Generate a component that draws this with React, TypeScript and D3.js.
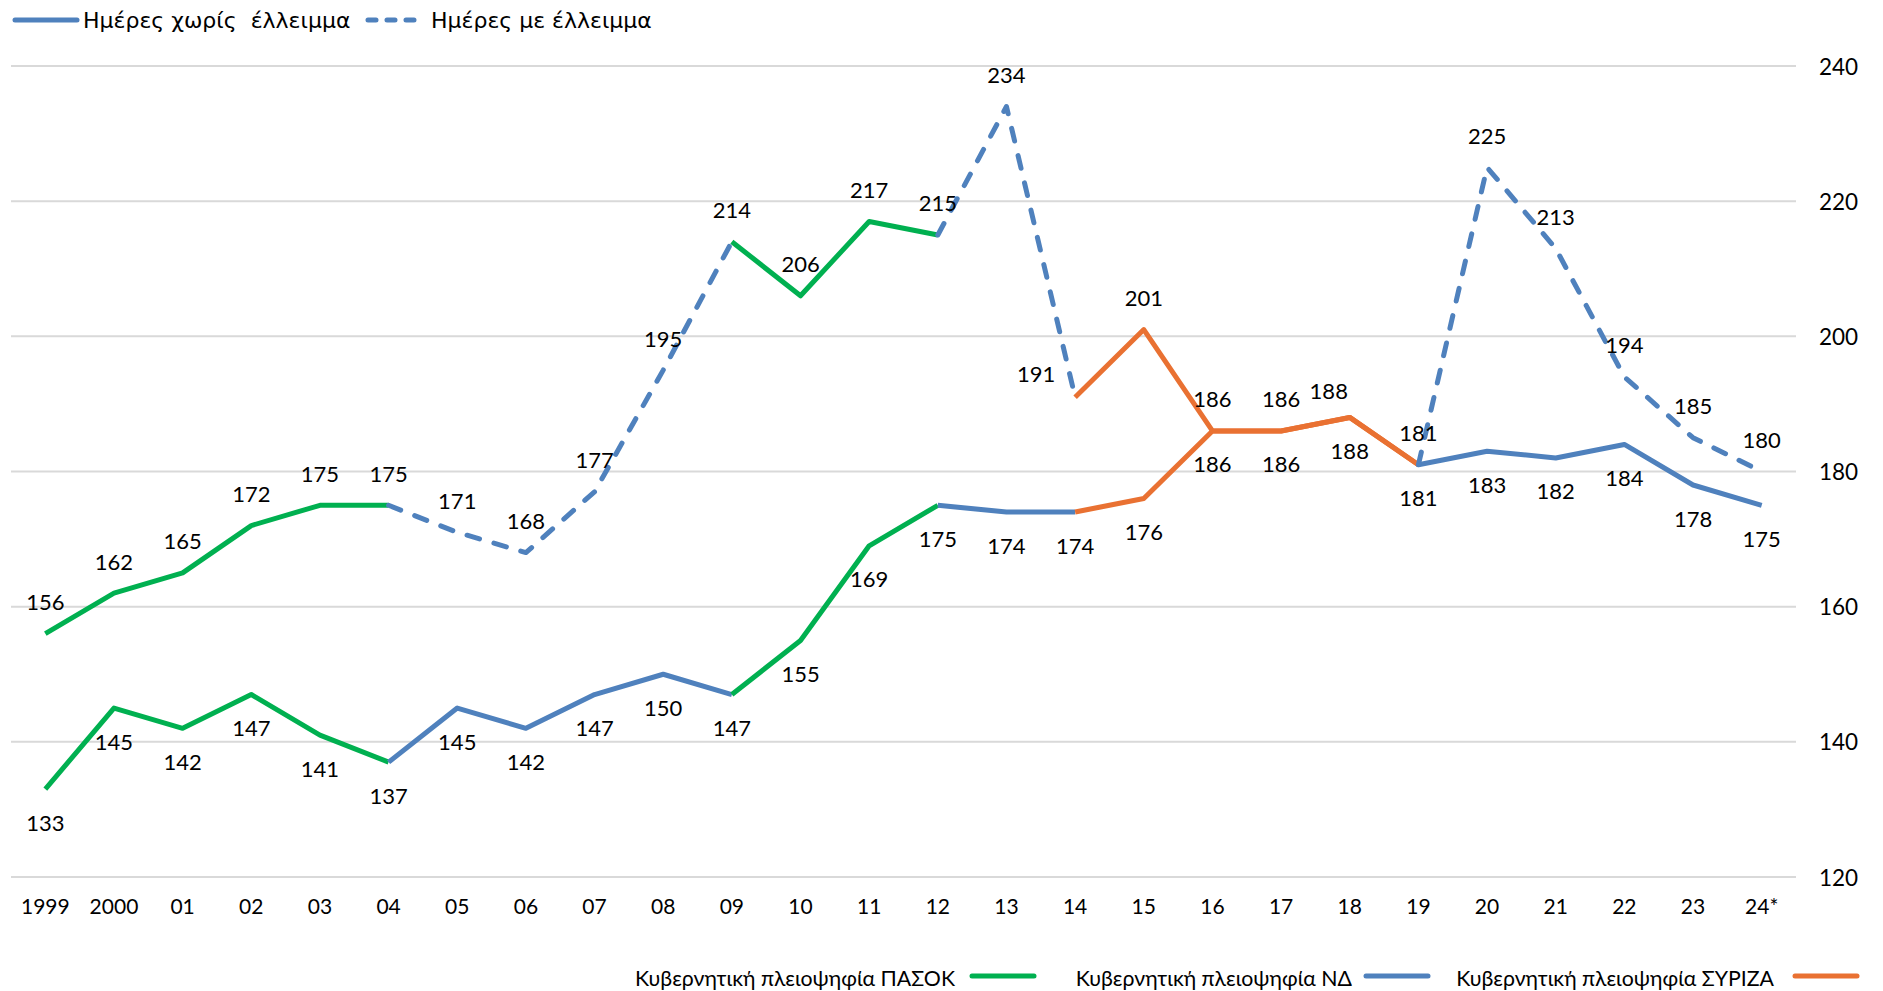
import React from "react";
import * as d3 from "d3";

const categories = ["1999","2000","01","02","03","04","05","06","07","08","09","10","11","12","13","14","15","16","17","18","19","20","21","22","23","24*"];
const upperValues = [156,162,165,172,175,175,171,168,177,195,214,206,217,215,234,191,201,186,186,188,181,225,213,194,185,180];
const lowerValues = [133,145,142,147,141,137,145,142,147,150,147,155,169,175,174,174,176,186,186,188,181,183,182,184,178,175];
// party governing each interval between consecutive years (25 intervals)
const intervalParty = ["PASOK","PASOK","PASOK","PASOK","PASOK","ND","ND","ND","ND","ND","PASOK","PASOK","PASOK","ND","ND","SYRIZA","SYRIZA","SYRIZA","SYRIZA","SYRIZA","ND","ND","ND","ND","ND"];
const yTicks = [120,140,160,180,200,220,240];
const partyNames = ["PASOK","ND","SYRIZA"];
const partyLabels = ["Κυβερνητική πλειοψηφία ΠΑΣΟΚ","Κυβερνητική πλειοψηφία ΝΔ","Κυβερνητική πλειοψηφία ΣΥΡΙΖΑ"];
const topLegendLabels = ["Ημέρες χωρίς  έλλειμμα","Ημέρες με έλλειμμα"];

const COLORS: Record<string,string> = { PASOK: "#00b050", ND: "#4f81bd", SYRIZA: "#e97132" };
const FONT = "Lato, 'Noto Sans', sans-serif";
const LEGEND_FONT = "'DejaVu Sans', 'Liberation Sans', sans-serif";

// label nudges (style only)
const upperLabelOffsets: Record<number,[number,number]> = { 15: [-39, -24], 19: [-21, -27] };

export default function App() {
  const W = 1883, H = 991;
  const x = d3.scaleBand<string>().domain(categories).range([11, 1796]).padding(0);
  const cx = (i: number) => (x(categories[i]) as number) + x.bandwidth() / 2;
  const y = d3.scaleLinear().domain([120, 240]).range([877, 66]);
  const line = d3.line<[number, number]>().x(d => d[0]).y(d => d[1]);

  const runs = (vals: number[], upper: boolean) => {
    const rs: { party: string; from: number; to: number; dashed: boolean }[] = [];
    intervalParty.forEach((p, i) => {
      const dashed = upper && p === "ND";
      const last = rs[rs.length - 1];
      if (last && last.party === p && last.dashed === dashed) last.to = i + 1;
      else rs.push({ party: p, from: i, to: i + 1, dashed });
    });
    return rs.map((r, k) => {
      const pts: [number, number][] = [];
      for (let j = r.from; j <= r.to; j++) pts.push([cx(j), y(vals[j])]);
      return (
        <path key={(upper ? "u" : "l") + k} d={line(pts) as string} fill="none"
          stroke={COLORS[r.party]} strokeWidth={5}
          strokeLinecap={r.dashed ? "round" : "butt"} strokeLinejoin="round"
          strokeDasharray={r.dashed ? "13 15" : undefined} />
      );
    });
  };

  return (
    <svg width={W} height={H} style={{ position: "absolute", left: 0, top: 0, background: "#fff" }}>
      <rect width={W} height={H} fill="#fff" />
      {yTicks.map(t => (
        <g key={t}>
          <line x1={11} x2={1796} y1={y(t)} y2={y(t)} stroke="#d9d9d9" strokeWidth={2} />
          <text x={1819} y={y(t)} dominantBaseline="central" fontFamily={FONT} fontSize={22.5} fill="#000">{t}</text>
        </g>
      ))}
      {categories.map((c, i) => (
        <text key={c} x={cx(i)} y={905} textAnchor="middle" dominantBaseline="central" fontFamily={FONT} fontSize={21} fill="#000">{c}</text>
      ))}
      {runs(lowerValues, false)}
      {runs(upperValues, true)}
      {upperValues.map((v, i) => {
        const off = upperLabelOffsets[i] || [0, -32];
        return <text key={"ul" + i} x={cx(i) + off[0]} y={y(v) + off[1]} textAnchor="middle" dominantBaseline="central" fontFamily={FONT} fontSize={22} fill="#000">{v}</text>;
      })}
      {lowerValues.map((v, i) => (
        <text key={"ll" + i} x={cx(i)} y={y(v) + 33} textAnchor="middle" dominantBaseline="central" fontFamily={FONT} fontSize={22} fill="#000">{v}</text>
      ))}
      {/* top legend */}
      <line x1={15} x2={77} y1={20} y2={20} stroke={COLORS.ND} strokeWidth={5} strokeLinecap="round" />
      <text x={83} y={20} dominantBaseline="central" fontFamily={LEGEND_FONT} fontSize={22} fill="#000" style={{ whiteSpace: "pre" }}>{topLegendLabels[0]}</text>
      <line x1={368} x2={418} y1={20} y2={20} stroke={COLORS.ND} strokeWidth={5} strokeLinecap="round" strokeDasharray="8 11" />
      <text x={431} y={20} dominantBaseline="central" fontFamily={LEGEND_FONT} fontSize={22} fill="#000">{topLegendLabels[1]}</text>
      {/* bottom legend */}
      {partyNames.map((p, i) => {
        const textEnd = [955, 1352, 1774][i];
        const lx = [972, 1366, 1795][i];
        return (
          <g key={p}>
            <text x={textEnd} y={978} textAnchor="end" dominantBaseline="central" fontFamily={FONT} fontSize={21.3} fill="#000">{partyLabels[i]}</text>
            <line x1={lx} x2={lx + 62} y1={976} y2={976} stroke={COLORS[p]} strokeWidth={5} strokeLinecap="round" />
          </g>
        );
      })}
    </svg>
  );
}
